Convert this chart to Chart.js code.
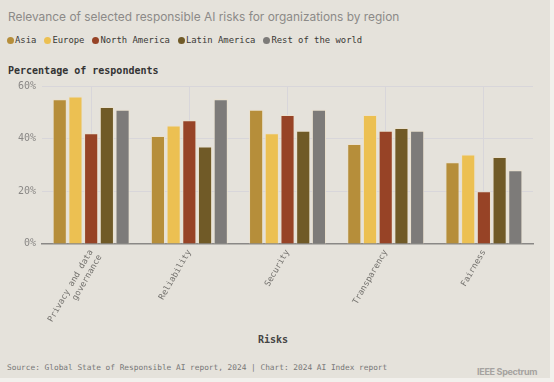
<!DOCTYPE html>
<html>
<head>
<meta charset="utf-8">
<script src="https://cdn.jsdelivr.net/npm/chart.js@4.4.1/dist/chart.umd.min.js"></script>
<style>
  body { margin: 0; background: #f2f0ec; width: 554px; height: 382px; overflow: hidden; position: relative; }
  #page { position: absolute; left: 0; top: 0; width: 550px; height: 378px; background: #e5e2db; }
  .mono { font-family: "DejaVu Sans Mono", monospace; }
  #title { position: absolute; left: 8px; top: 9px; font: 11.9px Inter, sans-serif; color: #8c8a88; white-space: nowrap; }
  #legend { position: absolute; left: 7px; top: 35px; font-size: 8.9px; color: #3a3936; display: flex; white-space: nowrap; }
  #legend span.item { display: inline-flex; align-items: center; margin-right: 8px; }
  #legend span.dot { width: 7px; height: 7px; border-radius: 50%; display: inline-block; margin-right: 1px; }
  #ytitle { position: absolute; left: 8px; top: 65px; font-size: 10px; font-weight: bold; color: #333; }
  #xtitle { position: absolute; left: 258px; top: 334px; font-size: 10px; font-weight: bold; color: #444; }
  #source { position: absolute; left: 7px; top: 363px; font-size: 7.8px; color: #777; white-space: nowrap; }
  #brand { position: absolute; left: 477px; top: 366px; font: bold 9px Inter, sans-serif; color: #a5a3a0; letter-spacing: -0.3px; white-space: nowrap; }
  #wrap { position: absolute; left: 0; top: 74px; width: 554px; height: 308px; }
</style>
</head>
<body>
<div id="page"></div>
<div id="title">Relevance of selected responsible AI risks for organizations by region</div>
<div id="legend" class="mono"></div>
<div id="ytitle" class="mono">Percentage of respondents</div>
<div id="xtitle" class="mono">Risks</div>
<div id="source" class="mono">Source: Global State of Responsible AI report, 2024 | Chart: 2024 AI Index report</div>
<div id="brand">IEEE Spectrum</div>
<div id="wrap"><canvas id="chart"></canvas></div>
<script>
const risks = [['Privacy and data', 'governance'], 'Reliability', 'Security', 'Transparency', 'Fairness'];
const regions = ['Asia', 'Europe', 'North America', 'Latin America', 'Rest of the world'];
const colors = ['#b68e3a', '#ecc052', '#974326', '#705a27', '#7d7b79'];

const asia = [55, 41, 51, 38, 31];
const europe = [56, 45, 42, 49, 34];
const northAmerica = [42, 47, 49, 43, 20];
const latinAmerica = [52, 37, 43, 44, 33];
const restOfWorld = [51, 55, 51, 43, 28];
const yTicks = [0, 20, 40, 60];

const series = [asia, europe, northAmerica, latinAmerica, restOfWorld];

// legend
const legend = document.getElementById('legend');
regions.forEach((r, i) => {
    const item = document.createElement('span');
    item.className = 'item';
    item.innerHTML = '<span class="dot" style="background:' + colors[i] + '"></span>' + r;
    legend.appendChild(item);
});

const ctx = document.getElementById('chart');
new Chart(ctx, {
    type: 'bar',
    data: {
        labels: risks,
        datasets: series.map((s, i) => ({
            label: regions[i],
            data: s,
            backgroundColor: colors[i],
            borderColor: 'rgba(235,225,205,0.9)',
            borderWidth: 1,
            categoryPercentage: 0.8,
            barPercentage: 0.9
        }))
    },
    options: {
        responsive: true,
        maintainAspectRatio: false,
        animation: false,
        layout: { padding: { left: 12, right: 21, top: 2, bottom: 49 } },
        plugins: {
            legend: { display: false },
            tooltip: { enabled: false }
        },
        scales: {
            x: {
                grid: { offset: false, color: '#d8d6da', drawTicks: false },
                border: { color: '#8a8886', width: 1.5 },
                ticks: {
                    minRotation: 60,
                    maxRotation: 60,
                    padding: 4,
                    color: '#74726e',
                    font: { family: 'DejaVu Sans Mono', size: 8.5 }
                }
            },
            y: {
                min: 0,
                max: 60,
                afterBuildTicks: axis => { axis.ticks = yTicks.map(v => ({ value: v })); },
                grid: { color: '#d8d6da', drawTicks: false },
                border: { display: false },
                ticks: {
                    padding: 6,
                    color: '#8a8886',
                    font: { family: 'DejaVu Sans Mono', size: 10 },
                    callback: v => v + '%'
                }
            }
        }
    }
});
</script>
</body>
</html>
